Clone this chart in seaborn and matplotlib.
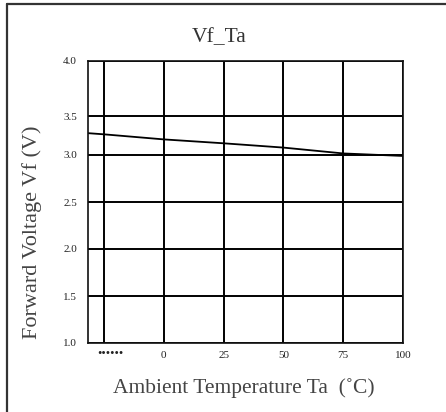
import numpy as np
import matplotlib
matplotlib.use("Agg")
import matplotlib.pyplot as plt
import matplotlib.transforms as mtransforms
from matplotlib.lines import Line2D
import seaborn as sns

# ---- data ----
temps = [-31.7, -25, 0, 25, 50, 75, 100]
vf = [3.28, 3.265, 3.20, 3.15, 3.095, 3.02, 2.99]
x_ticks = [-25, 0, 25, 50, 75, 100]
x_tick_labels = ["......", "0", "25", "50", "75", "100"]
y_ticks = [1.0, 1.5, 2.0, 2.5, 3.0, 3.5, 4.0]
y_tick_labels = ["1.0", "1.5", "2.0", "2.5", "3.0", "3.5", "4.0"]
# relative pixel heights of the (non-uniform) printed y grid
y_heights = [0, 47, 94, 141, 188, 227, 282]

sns.set_style("white")
plt.rcParams['font.family'] = ['Liberation Serif', 'DejaVu Serif']

W, H = 446, 412
fig = plt.figure(figsize=(W / 100, H / 100), dpi=100)
ax = fig.add_axes([88 / W, (H - 343) / H, 315 / W, 282 / H])


def fwd(v):
    return np.interp(v, y_ticks, y_heights)


def inv(h):
    return np.interp(h, y_heights, y_ticks)


ax.set_yscale('function', functions=(fwd, inv))

sns.lineplot(x=temps, y=vf, ax=ax, color='black', linewidth=1.3)

ax.set_xlim(-31.7, 100)
ax.set_ylim(1.0, 4.0)
ax.set_xticks(x_ticks)
ax.set_xticklabels(x_tick_labels)
ax.set_yticks(y_ticks)
ax.set_yticklabels(y_tick_labels)
ax.minorticks_off()
ax.tick_params(length=0, labelsize=8, colors='#222222')
ax.tick_params(axis='y', pad=8)
ax.tick_params(axis='x', pad=6)
ax.grid(True, color='black', linewidth=1.4)
ax.set_axisbelow(True)
for s in ax.spines.values():
    s.set_color('#111111')
    s.set_linewidth(1.2)

# the "......" label: larger bold dots, shifted like the original
lbl = ax.get_xticklabels()[0]
lbl.set_fontsize(13)
lbl.set_fontweight('bold')
lbl.set_transform(lbl.get_transform() + mtransforms.ScaledTranslation(6 / 100, 10 / 100, fig.dpi_scale_trans))

ax.set_xlabel("")
ax.set_ylabel("")
fig.text(219 / W, 1 - 38 / H, "Vf_Ta", ha='center', va='center', fontsize=15.5, color='#333333')
fig.text(244 / W, 1 - 388 / H, "Ambient Temperature Ta  (˚C)", ha='center', va='center',
         fontsize=15.5, color='#444444')
fig.text(32 / W, 1 - 232 / H, "Forward Voltage Vf (V)", ha='center', va='center',
         rotation=90, fontsize=16, color='#444444')

# outer frame (left and top edges)
fig.add_artist(Line2D([7 / W, 7 / W], [0, 1 - 4 / H], transform=fig.transFigure,
                      color='#333333', linewidth=1.6))
fig.add_artist(Line2D([7 / W, 1], [1 - 4 / H, 1 - 4 / H], transform=fig.transFigure,
                      color='#333333', linewidth=1.6))

fig.savefig("out.png", dpi=100)
